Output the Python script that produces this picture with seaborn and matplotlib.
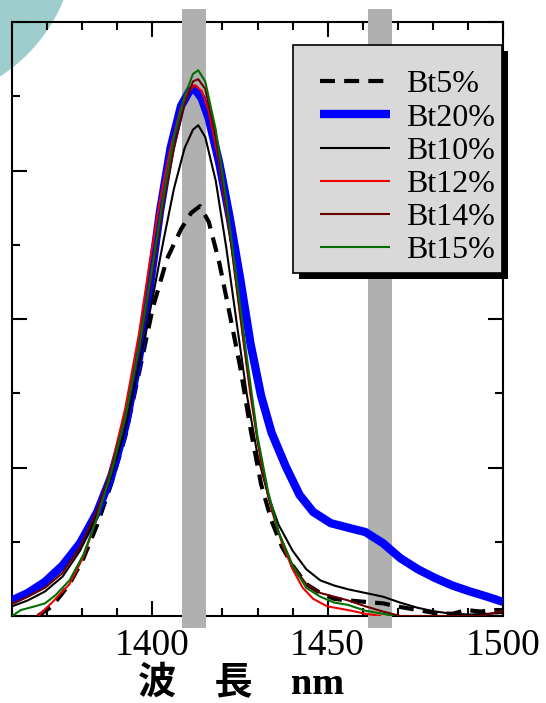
import matplotlib
matplotlib.use("Agg")
import matplotlib.pyplot as plt
from matplotlib.patches import Ellipse, Rectangle
from matplotlib.ticker import MultipleLocator
import seaborn as sns

# ---------------- data ----------------
x_bt5 = [1367.4, 1371.4, 1376.4, 1380.4, 1384.3, 1388.3, 1392.3, 1396.2, 1400.2, 1404.2,
         1408.2, 1411.1, 1413.6, 1416.1, 1419.1, 1422.1, 1425.0, 1428.0, 1431.0, 1434.0,
         1437.0, 1440.0, 1443.9, 1447.9, 1451.9, 1455.8, 1460.8, 1465.8, 1469.7, 1475.7,
         1480.7, 1485.6, 1489.6, 1493.6, 1497.7, 1500.0]
y_bt5 = [0.0, 0.13, 0.43, 0.78, 1.23, 1.78, 2.42, 3.27, 4.16, 4.81,
         5.21, 5.43, 5.52, 5.31, 4.76, 4.06, 3.37, 2.52, 1.78, 1.28,
         0.93, 0.68, 0.43, 0.31, 0.23, 0.21, 0.19, 0.17, 0.13, 0.08,
         0.04, 0.03, 0.08, 0.06, 0.08, 0.08]

x_bt20 = [1360.0, 1364.5, 1369.4, 1374.4, 1379.4, 1384.3, 1388.3, 1392.3, 1396.2, 1399.2,
          1402.2, 1405.2, 1408.2, 1410.6, 1412.1, 1414.1, 1416.1, 1419.1, 1422.1, 1425.0,
          1428.0, 1431.0, 1434.0, 1438.0, 1442.0, 1445.9, 1450.9, 1455.8, 1460.8, 1465.8,
          1470.7, 1475.7, 1480.7, 1485.6, 1490.6, 1495.5, 1500.0]
y_bt20 = [0.21, 0.31, 0.46, 0.68, 0.98, 1.4, 1.88, 2.55, 3.47, 4.4,
          5.45, 6.3, 6.87, 7.07, 7.1, 6.97, 6.7, 6.1, 5.36, 4.56,
          3.67, 2.97, 2.47, 2.02, 1.63, 1.4, 1.25, 1.19, 1.13, 0.98,
          0.78, 0.63, 0.51, 0.41, 0.33, 0.26, 0.19]

x_bt10 = [1360.0, 1364.5, 1369.4, 1374.4, 1379.4, 1384.3, 1388.3, 1392.3, 1396.2, 1400.2,
          1403.2, 1406.2, 1409.2, 1411.6, 1413.1, 1415.1, 1418.1, 1421.1, 1424.0, 1427.0,
          1430.0, 1433.0, 1436.0, 1440.0, 1443.9, 1447.9, 1451.9, 1455.8, 1460.8, 1465.8,
          1470.7, 1475.7, 1480.7, 1485.6, 1490.6, 1495.5, 1500.0]
y_bt10 = [0.13, 0.21, 0.33, 0.53, 0.88, 1.38, 1.88, 2.52, 3.37, 4.31,
          5.06, 5.76, 6.3, 6.55, 6.61, 6.45, 5.86, 4.96, 3.97, 2.97,
          2.17, 1.63, 1.23, 0.88, 0.63, 0.48, 0.41, 0.36, 0.31, 0.26,
          0.18, 0.11, 0.06, 0.03, 0.02, 0.03, 0.04]

x_bt12 = [1367.4, 1371.4, 1376.4, 1380.4, 1384.3, 1388.3, 1392.3, 1396.2, 1399.2, 1402.2,
          1405.2, 1408.2, 1410.1, 1412.1, 1414.1, 1416.1, 1419.1, 1422.1, 1425.0, 1428.0,
          1431.0, 1434.0, 1437.0, 1440.0, 1442.9, 1445.9, 1449.9, 1455.8, 1460.8, 1465.3]
y_bt12 = [0.0, 0.18, 0.43, 0.8, 1.33, 2.0, 2.8, 3.8, 4.75, 5.6,
          6.3, 6.85, 7.05, 7.15, 7.07, 6.8, 6.1, 5.16, 4.06, 2.97,
          2.07, 1.43, 0.98, 0.63, 0.38, 0.23, 0.13, 0.08, 0.03, 0.0]

x_bt14 = [1360.0, 1364.5, 1369.4, 1374.4, 1379.4, 1384.3, 1388.3, 1392.3, 1396.2, 1400.2,
          1403.2, 1406.2, 1409.2, 1411.6, 1413.1, 1415.1, 1418.1, 1421.1, 1424.0, 1427.0,
          1430.0, 1433.0, 1436.0, 1440.0, 1443.9, 1447.9, 1451.9, 1455.8, 1460.8, 1465.8,
          1470.7, 1493.6, 1500.0]
y_bt14 = [0.16, 0.26, 0.38, 0.58, 0.93, 1.43, 1.98, 2.67, 3.57, 4.66,
          5.56, 6.3, 6.9, 7.2, 7.23, 7.1, 6.45, 5.51, 4.46, 3.37,
          2.37, 1.63, 1.13, 0.68, 0.43, 0.31, 0.26, 0.21, 0.13, 0.06,
          0.0, 0.0, 0.07]

x_bt15 = [1360.0, 1362.5, 1366.5, 1369.4, 1372.4, 1376.4, 1380.4, 1384.3, 1388.3, 1392.3,
          1396.2, 1400.2, 1403.2, 1406.2, 1409.2, 1411.6, 1413.1, 1415.1, 1418.1, 1421.1,
          1424.0, 1427.0, 1430.0, 1433.0, 1436.0, 1440.0, 1443.9, 1447.9, 1451.9, 1455.8,
          1460.8, 1465.8, 1468.8]
y_bt15 = [0.0, 0.08, 0.13, 0.17, 0.28, 0.48, 0.83, 1.33, 1.93, 2.67,
          3.62, 4.76, 5.66, 6.45, 7.0, 7.3, 7.35, 7.2, 6.55, 5.61,
          4.56, 3.47, 2.42, 1.68, 1.13, 0.68, 0.38, 0.26, 0.18, 0.15,
          0.07, 0.03, 0.0]

series_names = ["Bt5%", "Bt20%", "Bt10%", "Bt12%", "Bt14%", "Bt15%"]
series_x = [x_bt5, x_bt20, x_bt10, x_bt12, x_bt14, x_bt15]
series_y = [y_bt5, y_bt20, y_bt10, y_bt12, y_bt14, y_bt15]
series_colors = ["black", "#0000ff", "black", "#ee0000", "#6a0000", "#006f00"]
series_widths = [3.0, 6.0, 1.5, 1.5, 1.5, 1.5]

band_centers = [1412, 1465]
band_width = 6.8

x_label = "波\u3000長\u3000nm"

# ---------------- style ----------------
W, H, DPI = 546, 703, 100
sns.set_style("ticks")
plt.rcParams["font.family"] = ["Liberation Serif", "Noto Sans CJK JP", "DejaVu Sans"]
plt.rcParams["text.color"] = "black"
plt.rcParams["axes.labelcolor"] = "black"

fig = plt.figure(figsize=(W / DPI, H / DPI), dpi=DPI, facecolor="white")

# decorative teal disc in the upper-left corner
fig.add_artist(Ellipse((-90 / W, 1 + 63 / H), 2 * 166 / W, 2 * 166 / H,
                       transform=fig.transFigure, facecolor="#9dcdcd",
                       edgecolor="none", zorder=-1))

ax = fig.add_axes([12 / W, 1 - 616 / H, 491 / W, 594 / H])
ax.set_facecolor("none")

for name, xs, ys, c, lw in zip(series_names, series_x, series_y, series_colors, series_widths):
    sns.lineplot(x=xs, y=ys, ax=ax, color=c, linewidth=lw, label=name,
                 zorder=4, sort=False, estimator=None)
    line = ax.lines[-1]
    line.set_solid_capstyle("butt")
    line.set_solid_joinstyle("round")
    if name == "Bt5%":
        line.set_linestyle((0, (3.6, 2.2)))
        line.set_dash_capstyle("butt")

for bc in band_centers:
    ax.axvspan(bc - band_width / 2, bc + band_width / 2, ymin=-0.021, ymax=1.022,
               color="#b0b0b0", lw=0, zorder=3, clip_on=False)

ax.set_xlim(1360, 1500)
ax.set_ylim(0, 8)
ax.xaxis.set_major_locator(MultipleLocator(50))
ax.xaxis.set_minor_locator(MultipleLocator(10))
ax.yaxis.set_major_locator(MultipleLocator(2))
ax.yaxis.set_minor_locator(MultipleLocator(1))
ax.tick_params(which="both", direction="in", top=True, right=True, width=1.5,
               colors="black")
ax.tick_params(which="major", length=11)
ax.tick_params(which="minor", length=6)
ax.tick_params(axis="x", which="major", labelsize=27, pad=9)
ax.tick_params(axis="y", labelleft=False)
for s in ax.spines.values():
    s.set_linewidth(1.5)
    s.set_color("black")
    s.set_zorder(2.5)

ax.set_xlabel(x_label, fontsize=27.5, fontweight="bold", color="black",
              family=["Liberation Serif", "Noto Sans CJK JP"], labelpad=2)
ax.xaxis.label.set_x(0.466)

# legend: drawn frame + shadow, entries from the plotted lines
fx0, fy0, fx1, fy1 = (293 - 12) / 491, (616 - 273) / 594, (502 - 12) / 491, (616 - 45) / 594
ax.add_patch(Rectangle((fx0 + 6 / 491, fy0 - 6 / 594), fx1 - fx0, fy1 - fy0,
                       transform=ax.transAxes, facecolor="black", edgecolor="none",
                       zorder=5, clip_on=False))
ax.add_patch(Rectangle((fx0, fy0), fx1 - fx0, fy1 - fy0, transform=ax.transAxes,
                       facecolor="#d9d9d9", edgecolor="black", lw=1.2,
                       zorder=5.1, clip_on=False))
leg = ax.legend(loc="upper left", bbox_to_anchor=((320 - 12) / 491, (616 - 70) / 594),
                frameon=False, fontsize=23, handlelength=2.2, handletextpad=0.5,
                labelspacing=0.12, borderpad=0, borderaxespad=0)
leg.set_zorder(6)
for t in leg.get_texts():
    t.set_color("black")

fig.savefig("out.png", dpi=DPI, facecolor="white")
